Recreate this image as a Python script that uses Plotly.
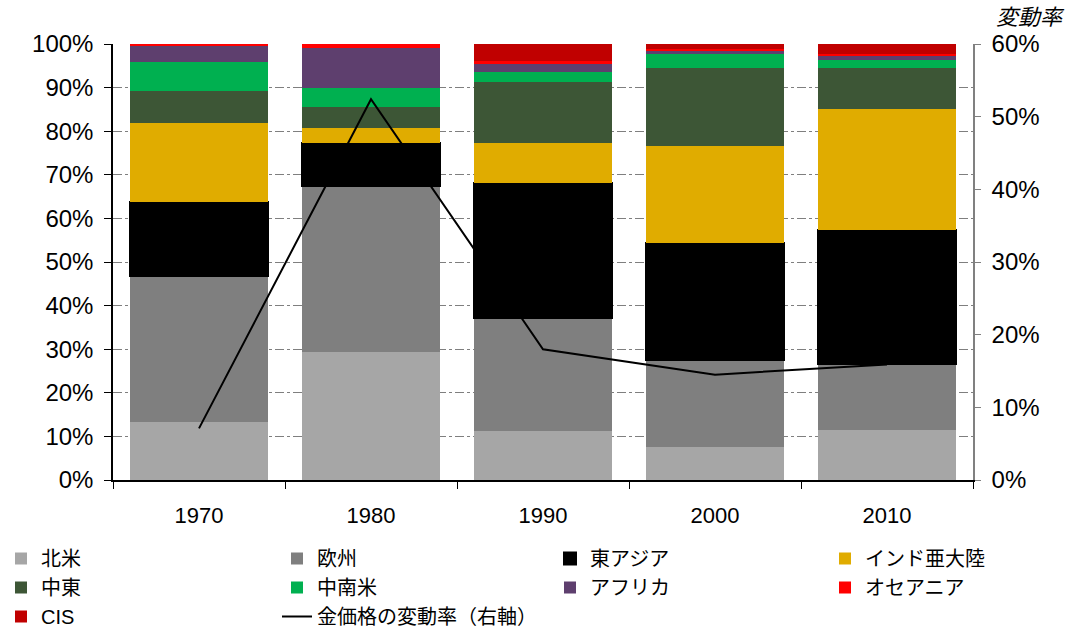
import plotly.graph_objects as go

years = ["1970", "1980", "1990", "2000", "2010"]

north_america = [13.2, 29.3, 11.2, 7.5, 11.5]
europe        = [33.5, 38.2, 26.0, 20.1, 15.1]
east_asia     = [17.1, 9.7, 31.0, 26.7, 30.8]
india         = [18.0, 3.6, 9.2, 22.4, 27.8]
middle_east   = [7.5, 4.8, 13.8, 17.7, 9.2]
latin_america = [6.5, 4.4, 2.4, 3.2, 1.9]
africa        = [3.7, 9.1, 1.8, 0.8, 0.9]
oceania       = [0.5, 0.9, 0.8, 0.5, 0.6]
cis           = [0.0, 0.0, 3.8, 1.1, 2.2]

gold_change = [7.1, 52.4, 18.0, 14.5, 15.9]

series_names = ["北米", "欧州", "東アジア", "インド亜大陸", "中東", "中南米", "アフリカ", "オセアニア", "CIS"]
series_values = [north_america, europe, east_asia, india, middle_east,
                 latin_america, africa, oceania, cis]
series_colors = ["#A6A6A6", "#7F7F7F", "#000000", "#E0AC00", "#3D5636",
                 "#00B050", "#5E3F6E", "#FF0000", "#C00000"]
# legend column (1..4) for each series, as laid out in the reference
series_legend = ["legend", "legend2", "legend3", "legend4", "legend",
                 "legend2", "legend3", "legend4", "legend"]
line_name = "金価格の変動率（右軸）"

fig = go.Figure()
for name, vals, col, lg in zip(series_names, series_values, series_colors, series_legend):
    is_black = name == "東アジア"
    fig.add_trace(go.Bar(
        x=years, y=[v / 100 for v in vals], name=name,
        marker=dict(color=col,
                    line=dict(color="#000000" if is_black else col,
                              width=2 if is_black else 0)),
        yaxis="y", legend=lg,
    ))

fig.add_trace(go.Scatter(
    x=years, y=[v / 100 for v in gold_change], name=line_name,
    mode="lines", line=dict(color="#000000", width=2), yaxis="y2",
    legend="legend2",
))

tick_font_y = dict(family="Liberation Sans, Arial, sans-serif", size=24, color="#000000")
tick_font_x = dict(family="Liberation Sans, Arial, sans-serif", size=22, color="#000000")

L, R, T, B = 113, 97, 44, 149
W, H = 1070, 629
pw, ph = W - L - R, H - T - B

legend_font = dict(family="Liberation Sans, Noto Sans CJK JP", size=20, color="#000000")
leg_y = (ph - (539 - T)) / ph


def legend_at(px_left):
    return dict(
        orientation="v", x=(px_left - L) / pw, xanchor="left",
        y=leg_y, yanchor="top", font=legend_font, traceorder="normal",
        itemwidth=30, bgcolor="rgba(0,0,0,0)", borderwidth=0,
    )


fig.update_layout(
    width=W, height=H,
    margin=dict(l=L, r=R, t=T, b=B, autoexpand=False),
    paper_bgcolor="white", plot_bgcolor="white",
    barmode="stack", bargap=0.2,
    showlegend=True,
    legend=legend_at(1),
    legend2=legend_at(277),
    legend3=legend_at(550),
    legend4=legend_at(825),
    xaxis=dict(
        type="category", tickfont=tick_font_x,
        showline=True, linecolor="#000000", linewidth=2,
        ticks="outside", ticklen=7, tickcolor="#000000", tickson="boundaries",
        ticklabelstandoff=15,
        showgrid=False, zeroline=False,
    ),
    yaxis=dict(
        range=[0, 1], dtick=0.1, tickformat=".0%", tickfont=tick_font_y,
        showline=True, linecolor="#000000", linewidth=1.5,
        ticks="outside", ticklen=7, tickcolor="#000000",
        ticklabelstandoff=6,
        showgrid=True, gridcolor="#7F7F7F", gridwidth=1, griddash="dashdot",
        zeroline=False,
    ),
    yaxis2=dict(
        range=[0, 0.6], dtick=0.1, tickformat=".0%", tickfont=tick_font_y,
        overlaying="y", side="right",
        showline=True, linecolor="#808080", linewidth=1.5,
        ticks="outside", ticklen=6, tickcolor="#808080",
        ticklabelstandoff=6,
        showgrid=False, zeroline=False,
    ),
    annotations=[dict(
        text="変動率", xref="paper", yref="paper",
        x=(1030 - L) / pw, y=(ph - (15 - T)) / ph,
        xanchor="center", yanchor="middle", showarrow=False,
        font=dict(family="Noto Sans CJK JP", size=22, color="#000000", style="italic"),
    )],
)

fig.write_html("out.html")
